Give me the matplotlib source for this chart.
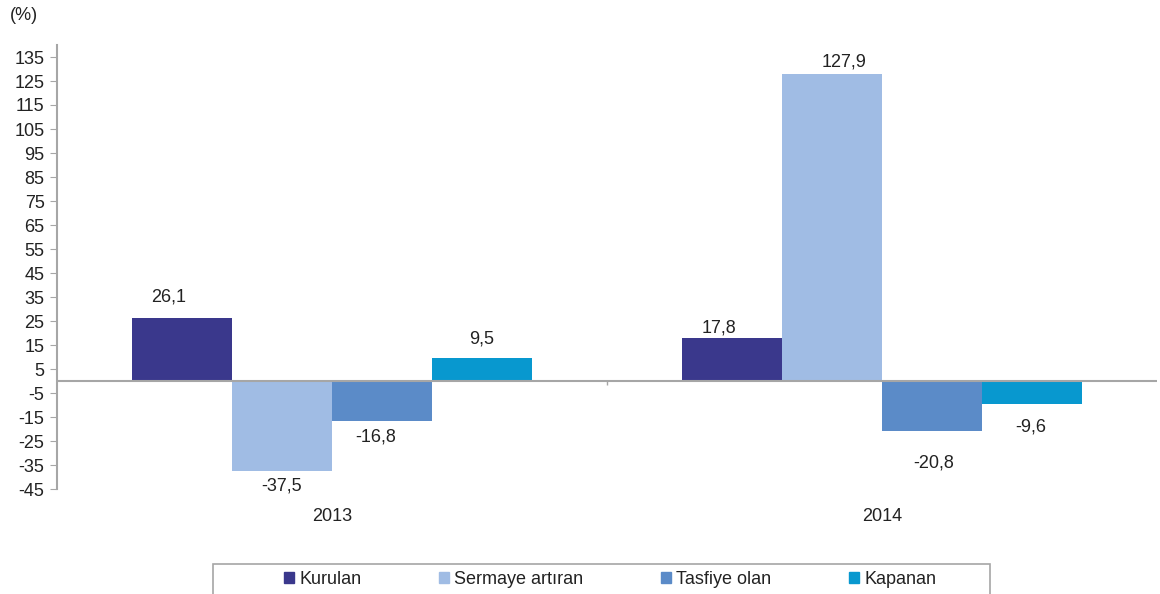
import matplotlib.pyplot as plt
import numpy as np
from matplotlib.patches import Patch, Rectangle

plt.rcParams['font.family'] = ['Liberation Sans', 'DejaVu Sans']
plt.rcParams['axes.unicode_minus'] = False

# veriler
years = ["2013", "2014"]
series = ["Kurulan", "Sermaye artıran", "Tasfiye olan", "Kapanan"]
kurulan = [26.1, 17.8]
sermaye = [-37.5, 127.9]
tasfiye = [-16.8, -20.8]
kapanan = [9.5, -9.6]

colors = ["#3A388C", "#A0BCE4", "#5B8BC8", "#0898CF"]

# etiket kaydırmaları (piksel): her seri için [2013, 2014]
label_dx = [[-13, -13], [0, 12], [-6, 2], [0, -1]]
label_dy = [[21, 10], [15, 12], [16, 32], [19, 23]]

fs = 13

fig = plt.figure(figsize=(11.6, 5.94), dpi=100)
ax = fig.add_axes([57 / 1160, 1 - 489 / 594, 1100 / 1160, 444 / 594])

x = np.arange(len(years))
w = 100 / 550
values = [kurulan, sermaye, tasfiye, kapanan]

for i, (name, vals) in enumerate(zip(series, values)):
    pos = x + (i - 1.5) * w
    ax.bar(pos, vals, width=w, color=colors[i], label=name, zorder=2)
    for j, v in enumerate(vals):
        sign = 1 if v >= 0 else -1
        ax.annotate(f"{v:.1f}".replace(".", ","), (pos[j], v),
                    xytext=(label_dx[i][j], sign * label_dy[i][j]),
                    textcoords="offset pixels", ha="center", va="center",
                    fontsize=fs, color="#222222")

ax.axhline(0, color="#A6A6A6", lw=1.5, zorder=3)
ax.vlines(0.5, -1.8, 0, color="#A6A6A6", lw=1)

ax.set_xlim(-0.5, 1.5)
ax.set_ylim(-45, 140)
ax.set_yticks(np.arange(-45, 136, 10))
ax.tick_params(axis="y", labelsize=fs, colors="#222222", length=5,
               color="#A6A6A6", pad=4)
ax.set_xticks(x, years)
ax.tick_params(axis="x", length=0, labelsize=fs, colors="#222222", pad=14)

for s in ["top", "right", "bottom"]:
    ax.spines[s].set_visible(False)
ax.spines["left"].set_color("#A6A6A6")
ax.spines["left"].set_linewidth(1.5)

fig.text(10 / 1160, 1 - 15 / 594, "(%)", fontsize=fs, color="#222222",
         va="center")

# lejant (alt kenarı resmin dışında kalıyor)
handles = [Patch(color=c) for c in colors]
leg = fig.legend(handles, series, loc="center", ncol=4, mode="expand",
                 bbox_to_anchor=(284 / 1160, 1 - 591 / 594, 652 / 1160, 24 / 594),
                 fontsize=fs, frameon=False,
                 handlelength=0.55, handleheight=0.55, handletextpad=0.3,
                 borderpad=0, borderaxespad=0)
for t in leg.get_texts():
    t.set_color("#222222")
fig.patches.append(Rectangle((213 / 1160, -10 / 594), 777 / 1160, 40 / 594,
                             transform=fig.transFigure, fill=False,
                             edgecolor="#A6A6A6", lw=1.2))

fig.savefig("out.png", dpi=100)
